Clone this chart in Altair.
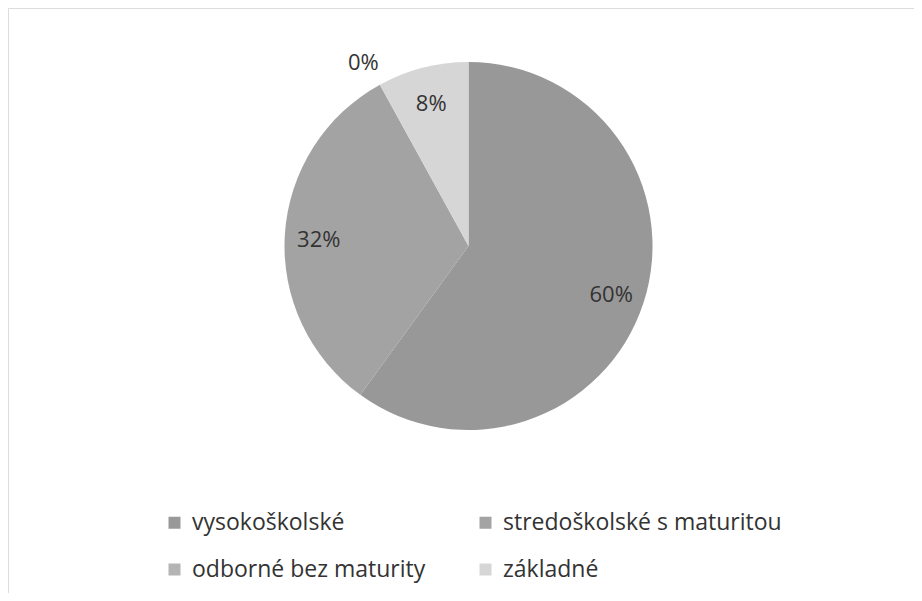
import altair as alt
import pandas as pd

categories = ["vysokoškolské", "stredoškolské s maturitou", "odborné bez maturity", "základné"]
values = [60, 32, 0, 8]
colors = ["#989898", "#a3a3a3", "#b4b4b4", "#d6d6d6"]

df = pd.DataFrame({"kategoria": categories, "hodnota": values, "poradie": list(range(len(categories)))})

FONT = "Open Sans"
cx, cy = 460.5, 238

base = alt.Chart(df).encode(
    theta=alt.Theta("hodnota:Q", stack=True),
    order=alt.Order("poradie:Q"),
)

pie = base.mark_arc(outerRadius=184, strokeWidth=0).encode(
    x=alt.value(cx),
    y=alt.value(cy),
    color=alt.Color(
        "kategoria:N",
        sort=categories,
        scale=alt.Scale(domain=categories, range=colors),
        legend=alt.Legend(
            title=None,
            orient="none",
            direction="horizontal",
            legendX=155,
            legendY=503,
            columns=2,
            columnPadding=48,
            rowPadding=23,
            symbolType="square",
            symbolSize=144,
            symbolStrokeWidth=0,
            labelFont=FONT,
            labelFontSize=23,
            labelColor="#333333",
            labelLimit=400,
            labelOffset=6,
            symbolOffset=0,
        ),
    ),
)

text_in = base.mark_text(font=FONT, fontSize=22, color="#333333", radius=150, dy=3).encode(
    x=alt.value(cx),
    y=alt.value(cy),
    text="lab:N",
).transform_calculate(lab="datum.hodnota > 0 ? datum.hodnota + '%' : ''")

text_out = base.mark_text(font=FONT, fontSize=22, color="#333333", radius=212, dy=3, dx=-3).encode(
    x=alt.value(cx),
    y=alt.value(cy),
    text="lab:N",
).transform_calculate(lab="datum.hodnota == 0 ? datum.hodnota + '%' : ''")

chart = (
    alt.layer(pie, text_in, text_out)
    .properties(width=906, height=585, padding=0)
    .configure_view(stroke=None, strokeWidth=0)
    .configure(background="white")
)

chart.save("out.html", embed_options={"renderer": "svg", "actions": False})
